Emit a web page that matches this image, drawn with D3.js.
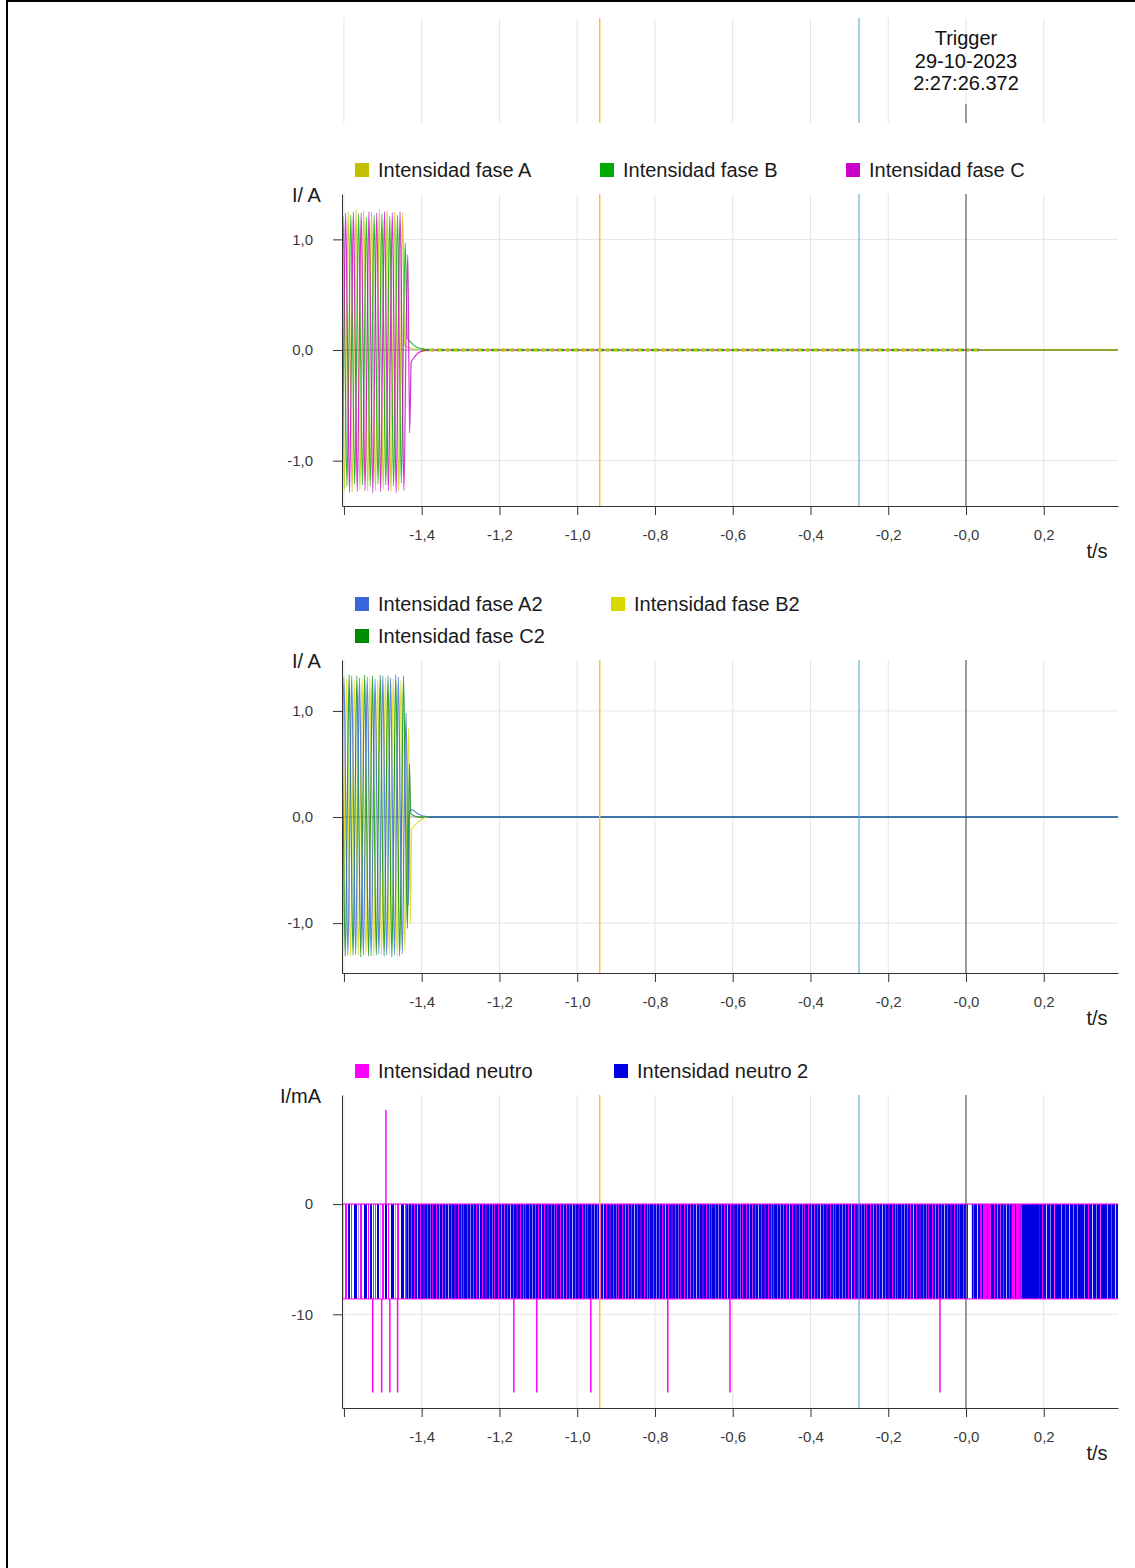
<!DOCTYPE html>
<html>
<head>
<meta charset="utf-8">
<script src="https://cdn.jsdelivr.net/npm/d3@7"></script>
<style>
  body { margin: 0; background: #fff; }
  svg { display: block; font-family: "Liberation Sans", Arial, sans-serif; }
</style>
</head>
<body>
<svg width="1135" height="1568"></svg>
<script>
// ---- datos ----
const ticksT = [-1.6, -1.4, -1.2, -1.0, -0.8, -0.6, -0.4, -0.2, 0.0, 0.2];
const tMin = -1.605, tMax = 0.391;
const tAmarillo = -0.942;   // marcador amarillo
const tAzul = -0.275;       // marcador azul
const tTrigger = 0.0;
const semiPeriodo = 0.01;   // 50 Hz

// panel 1 (A) - picos alternos desde t0
const faseA_t0 = -1.609;
const faseA = [1.26, -1.27, 1.25, -1.28, 1.27, -1.26, 1.26, -1.27, 1.25, -1.27, 1.27, -1.26, 1.26, -1.28, 1.25, -1.27, 1.24];
const faseA_cola = [[-1.444, 0.04], [-1.43, 0.02], [-1.41, 0.0]];
const faseB_t0 = -1.6123;
const faseB = [-1.22, 1.21, -1.23, 1.22, -1.21, 1.23, -1.22, 1.20, -1.23, 1.22, -1.21, 1.23, -1.22, 1.21, -1.23, 1.22, -1.20, 0.97];
const faseB_cola = [[-1.437, 0.11], [-1.425, 0.06], [-1.415, 0.03], [-1.40, 0.01], [-1.385, 0]];
const faseC_t0 = -1.6057;
const faseC = [-1.28, 1.24, -1.29, 1.25, -1.28, 1.24, -1.27, 1.25, -1.29, 1.24, -1.28, 1.25, -1.27, 1.24, -1.29, 1.25, -1.27, 0.86];
const faseC_cola = [[-1.431, -0.75], [-1.427, -0.11], [-1.42, -0.07], [-1.41, -0.03], [-1.40, -0.01], [-1.385, 0]];
const rizadoFin = 0.04;

// panel 2 (A2)
const faseA2_t0 = -1.600;
const faseA2 = [1.32, -1.30, 1.33, -1.29, 1.31, -1.30, 1.32, -1.31, 1.30, -1.29, 1.33, -1.30, 1.31, -1.30, 1.32, -1.29, 0.98];
const faseA2_cola = [[-1.4345, -0.83], [-1.431, 0.07], [-1.42, 0.06], [-1.41, 0.03], [-1.395, 0.01], [-1.38, 0]];
const faseB2_t0 = -1.6033;
const faseB2 = [-1.29, 1.30, -1.31, 1.29, -1.30, 1.31, -1.29, 1.30, -1.31, 1.29, -1.30, 1.31, -1.29, 1.30, -1.31, 1.29, -1.25, 0.84];
const faseB2_cola = [[-1.429, -1.0], [-1.426, -0.12], [-1.415, -0.07], [-1.40, -0.02], [-1.385, 0]];
const faseC2_t0 = -1.6067;
const faseC2 = [1.33, -1.31, 1.34, -1.30, 1.33, -1.32, 1.34, -1.31, 1.33, -1.30, 1.34, -1.31, 1.33, -1.32, 1.34, -1.31, 1.33, -1.05];
const faseC2_cola = [[-1.4317, 0.5], [-1.428, 0.03], [-1.41, 0]];

// panel 3 (mA) - ruido de cuantizacion entre dos niveles
const nivelAlto = 0, nivelBajo = -8.6;
const neutroTramos = [
  [-1.605, -1.44, 'disperso'],
  [-1.44, 0.003, 'denso'],
  [0.003, 0.015, 'hueco'],
  [0.015, 0.036, 'claro'],
  [0.036, 0.062, 'magenta'],
  [0.062, 0.118, 'denso'],
  [0.118, 0.144, 'magenta'],
  [0.144, 0.19, 'azul'],
  [0.19, 0.391, 'claro']
];
const picosNeutro = [[-1.526, -17.1], [-1.503, -17.1], [-1.492, 8.55], [-1.482, -17.1], [-1.462, -17.1],
  [-1.163, -17.1], [-1.104, -17.1], [-0.965, -17.1], [-0.767, -17.1], [-0.607, -17.1], [-0.067, -17.1]];

// ---- dibujo ----
const svg = d3.select('svg');
const defs = svg.append('defs');

// marco de pagina
svg.append('line').attr('x1', 7).attr('y1', 1).attr('x2', 1135).attr('y2', 1).attr('stroke', '#000').attr('stroke-width', 2);
svg.append('line').attr('x1', 7).attr('y1', 0).attr('x2', 7).attr('y2', 1568).attr('stroke', '#000').attr('stroke-width', 2);

const x = d3.scaleLinear().domain([tMin, tMax]).range([342, 1118]);
const fmtT = d => d === -1.6 ? '' : (d <= 0 ? '-' : '') + Math.abs(d).toFixed(1).replace('.', ',');

function marcadores(g, y0, y1, trigTop) {
  g.append('line').attr('x1', x(tAmarillo)).attr('x2', x(tAmarillo)).attr('y1', y0).attr('y2', y1)
    .attr('stroke', '#f6c444').attr('stroke-width', 1.5);
  g.append('line').attr('x1', x(tAzul)).attr('x2', x(tAzul)).attr('y1', y0).attr('y2', y1)
    .attr('stroke', '#3aa6d6').attr('stroke-width', 1);
  g.append('line').attr('x1', x(tTrigger)).attr('x2', x(tTrigger)).attr('y1', trigTop).attr('y2', y1)
    .attr('stroke', '#444').attr('stroke-width', 1);
}

function rejillaV(g, y0, y1) {
  g.selectAll(null).data(ticksT).join('line')
    .attr('x1', d => x(d)).attr('x2', d => x(d)).attr('y1', y0).attr('y2', y1)
    .attr('stroke', '#e4e4e4');
}

// panel superior (trigger)
const gTop = svg.append('g');
rejillaV(gTop, 18, 123);
marcadores(gTop, 18, 123, 104);
['Trigger', '29-10-2023', '2:27:26.372'].forEach((s, i) => {
  gTop.append('text').attr('x', x(tTrigger)).attr('y', 45 + i * 22.5)
    .attr('text-anchor', 'middle').attr('font-size', 20).attr('fill', '#111').text(s);
});

function leyenda(items) {
  items.forEach(([lx, ly, color, texto]) => {
    svg.append('rect').attr('x', lx).attr('y', ly - 7).attr('width', 14).attr('height', 14).attr('fill', color);
    svg.append('text').attr('x', lx + 23).attr('y', ly + 7).attr('font-size', 20).attr('fill', '#1a1a1a').text(texto);
  });
}

function panel(id, top, bottom, yDom, yTicks, fmtY, etiqueta, etiquetaX) {
  const y = d3.scaleLinear().domain(yDom).range([bottom, top]);
  const g = svg.append('g');
  rejillaV(g, top, bottom);
  g.selectAll(null).data(yTicks).join('line')
    .attr('x1', 342).attr('x2', 1118).attr('y1', d => y(d)).attr('y2', d => y(d))
    .attr('stroke', d => d === 0 ? '#9a9a9a' : '#e4e4e4');
  defs.append('clipPath').attr('id', 'clip' + id)
    .append('rect').attr('x', 342).attr('y', top).attr('width', 1118 - 342).attr('height', bottom - top);
  const datos = g.append('g').attr('clip-path', `url(#clip${id})`);
  marcadores(g, top, bottom, top);
  const ax = g.append('g').attr('transform', `translate(0,${bottom})`)
    .call(d3.axisBottom(x).tickValues(ticksT).tickFormat(fmtT).tickSize(9).tickSizeOuter(0).tickPadding(14));
  const ay = g.append('g').attr('transform', 'translate(342,0)')
    .call(d3.axisLeft(y).tickValues(yTicks).tickFormat(fmtY).tickSize(9).tickSizeOuter(0).tickPadding(20));
  [ax, ay].forEach(a => {
    a.select('.domain').attr('stroke', '#333');
    a.selectAll('.tick line').attr('stroke', '#333');
    a.selectAll('.tick text').attr('font-size', 15).attr('fill', '#3a3a3a').attr('font-family', '"Liberation Sans", Arial, sans-serif');
  });
  g.append('text').attr('x', etiquetaX).attr('y', top + 8).attr('font-size', 20).attr('fill', '#1a1a1a').text(etiqueta);
  g.append('text').attr('x', 1097).attr('y', bottom + 52).attr('text-anchor', 'middle').attr('font-size', 20).attr('fill', '#1a1a1a').text('t/s');
  return { y, datos };
}

function puntos(t0, picos, cola) {
  const p = [];
  picos.forEach((v, i) => {
    const tp = t0 + i * semiPeriodo;
    p.push([tp - semiPeriodo / 2, 0]);
    p.push([tp, v]);
  });
  return p.concat(cola);
}

function onda(P, pts, color, ancho) {
  const linea = d3.line().x(d => x(d[0])).y(d => P.y(d[1])).curve(d3.curveMonotoneX);
  P.datos.append('path').attr('d', linea(pts)).attr('fill', 'none')
    .attr('stroke', color).attr('stroke-width', ancho).attr('stroke-opacity', 0.8).attr('stroke-linejoin', 'round');
}

function plano(P, t0, t1, color, ancho, dash) {
  const l = P.datos.append('line').attr('x1', x(t0)).attr('x2', x(t1)).attr('y1', P.y(0)).attr('y2', P.y(0))
    .attr('stroke', color).attr('stroke-width', ancho);
  if (dash) l.attr('stroke-dasharray', dash);
}

const colA = '#c4c000', colB = '#00aa00', colC = '#cc00cc';
const colA2 = '#3b66d9', colB2 = '#d8d800', colC2 = '#008c00';
const colN = '#ff00ff', colN2 = '#0000e0';

// panel 1
leyenda([[355, 170, colA, 'Intensidad fase A'], [600, 170, colB, 'Intensidad fase B'], [846, 170, colC, 'Intensidad fase C']]);
const P1 = panel(1, 194, 506, [-1.41, 1.41], [-1.0, 0.0, 1.0], d => d.toFixed(1).replace('.', ','), 'I/ A', 292);
plano(P1, -1.385, tMax, colC, 1);
plano(P1, -1.40, rizadoFin, colB, 2.4, '2,3');
plano(P1, -1.40, rizadoFin, colA, 3, '4,4');
plano(P1, rizadoFin, tMax, colB, 1);
plano(P1, rizadoFin, tMax, colA, 1.2);
onda(P1, puntos(faseA_t0, faseA, faseA_cola), colA, 1.2);
onda(P1, puntos(faseB_t0, faseB, faseB_cola), colB, 1.2);
onda(P1, puntos(faseC_t0, faseC, faseC_cola), colC, 1.2);

// panel 2
leyenda([[355, 604, colA2, 'Intensidad fase A2'], [611, 604, colB2, 'Intensidad fase B2'], [355, 636, colC2, 'Intensidad fase C2']]);
const P2 = panel(2, 660, 973, [-1.47, 1.48], [-1.0, 0.0, 1.0], d => d.toFixed(1).replace('.', ','), 'I/ A', 292);
plano(P2, -1.385, tMax, colB2, 1.2);
plano(P2, -1.41, tMax, colC2, 1.2);
plano(P2, -1.38, tMax, colA2, 1.6);
onda(P2, puntos(faseB2_t0, faseB2, faseB2_cola), colB2, 1.2);
onda(P2, puntos(faseC2_t0, faseC2, faseC2_cola), colC2, 1.2);
onda(P2, puntos(faseA2_t0, faseA2, faseA2_cola), colA2, 1.2);

// panel 3
leyenda([[355, 1071, colN, 'Intensidad neutro'], [614, 1071, colN2, 'Intensidad neutro 2']]);
const P3 = panel(3, 1095, 1408, [-18.5, 9.9], [-10, 0], d => String(d), 'I/mA', 280);

function patron(id, w, base, rayas) {
  const p = defs.append('pattern').attr('id', id).attr('patternUnits', 'userSpaceOnUse')
    .attr('width', w).attr('height', 400);
  p.append('rect').attr('width', w).attr('height', 400).attr('fill', base);
  rayas.forEach(([rx, rw, c]) => p.append('rect').attr('x', rx).attr('width', rw).attr('height', 400).attr('fill', c));
}
patron('denso', 31, colN2, [[2, 1, '#ff00ff'], [5, 1, '#8a7cf5'], [8, 1, '#d030f0'], [11, 1, '#ff00ff'], [14, 1, '#b8b0ff'], [17, 1, '#ff00ff'], [20, 2, '#7000e8'], [24, 1, '#ff00ff'], [27, 1, '#6a60f0'], [29, 1, '#e000f0']]);
patron('disperso', 37, '#ffffff', [[0, 2, colN2], [3, 1, '#ff00ff'], [5, 1, '#ff00ff'], [7, 2, colN2], [10, 1, '#c8c0ff'], [12, 2, '#ff00ff'], [15, 2, colN2], [18, 1, '#ff00ff'], [21, 3, colN2], [25, 1, '#9a90ff'], [27, 2, '#ff00ff'], [31, 3, colN2], [35, 1, '#ff00ff']]);
patron('claro', 23, colN2, [[3, 1, '#9c94ff'], [7, 1, '#ff00ff'], [11, 1, '#d0ccff'], [15, 1, '#8a80f8'], [19, 1, '#ff40ff']]);
patron('magenta', 11, '#ff00ff', [[3, 1, colN2], [8, 1, '#c000f0']]);
patron('hueco', 5, '#ffffff', [[2, 1, colN2]]);
const rellenos = { denso: 'url(#denso)', disperso: 'url(#disperso)', claro: 'url(#claro)', magenta: 'url(#magenta)', hueco: 'url(#hueco)', azul: colN2 };

P3.datos.selectAll(null).data(neutroTramos).join('rect')
  .attr('x', d => x(d[0])).attr('width', d => x(d[1]) - x(d[0]))
  .attr('y', P3.y(nivelAlto)).attr('height', P3.y(nivelBajo) - P3.y(nivelAlto))
  .attr('fill', d => rellenos[d[2]]);
[nivelAlto, nivelBajo].forEach(v => {
  P3.datos.append('line').attr('x1', x(tMin)).attr('x2', x(tMax)).attr('y1', P3.y(v)).attr('y2', P3.y(v))
    .attr('stroke', colN).attr('stroke-width', 1.2).attr('opacity', 0.85);
});
P3.datos.selectAll(null).data(picosNeutro).join('line')
  .attr('x1', d => x(d[0])).attr('x2', d => x(d[0]))
  .attr('y1', d => P3.y(d[1] > 0 ? nivelAlto : nivelBajo)).attr('y2', d => P3.y(d[1]))
  .attr('stroke', colN).attr('stroke-width', 1.5);
</script>
</body>
</html>
